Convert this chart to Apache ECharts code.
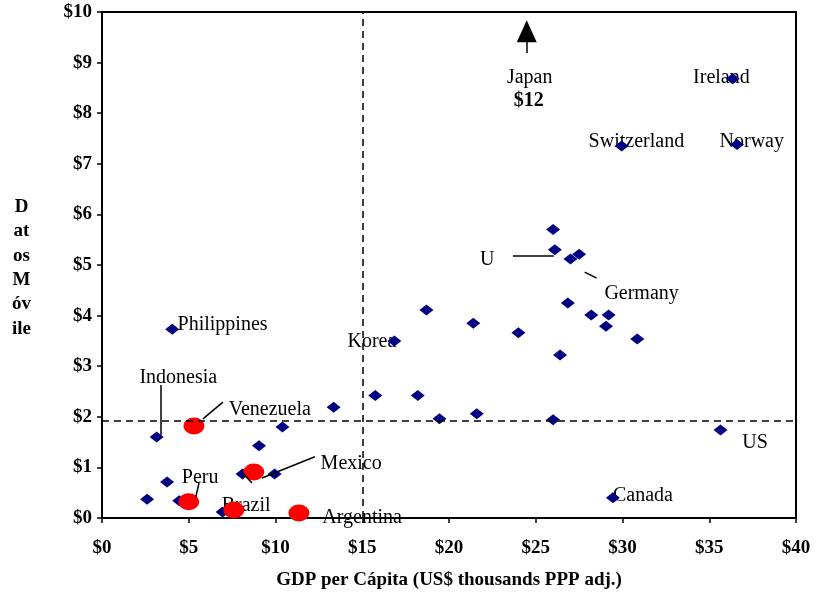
<!DOCTYPE html>
<html>
<head>
<meta charset="utf-8">
<script src="https://cdn.jsdelivr.net/npm/echarts@6/dist/echarts.min.js"></script>
<style>
  html, body { margin: 0; padding: 0; background: #fff; }
  #main { width: 817px; height: 593px; }
</style>
</head>
<body>
<div id="main"></div>
<script>
// GDP per capita (US$ thousands) and Datos Móvile ($)
const otherCountries = [
  [36.35, 8.68], [36.6, 7.38], [29.95, 7.35],
  [26.0, 5.7], [26.1, 5.3], [27.0, 5.12], [27.5, 5.21],
  [26.85, 4.25], [28.2, 4.01], [29.2, 4.01], [29.05, 3.79], [30.85, 3.54],
  [26.4, 3.22], [24.0, 3.66], [21.4, 3.85], [18.7, 4.11], [16.85, 3.5],
  [18.2, 2.42], [15.75, 2.42], [13.35, 2.19], [19.45, 1.96], [21.6, 2.06],
  [26.0, 1.94], [35.65, 1.74], [29.45, 0.4],
  [4.05, 3.73], [3.15, 1.6], [10.4, 1.8], [9.05, 1.43], [8.1, 0.87],
  [9.95, 0.87], [3.75, 0.71], [2.6, 0.37], [4.45, 0.34], [6.95, 0.12]
];
const latamCountries = [
  [5.3, 1.82], [8.75, 0.91], [5.0, 0.32], [7.6, 0.16], [11.35, 0.1]
];
const xTicks = [0, 5, 10, 15, 20, 25, 30, 35, 40];
const yTicks = [0, 1, 2, 3, 4, 5, 6, 7, 8, 9, 10];
const gdpRef = 15;
const mobileRef = 1.93;

// label anchors (data units): [x, y, text, align]
const labelAnchors = [
  [24.65, 8.75, 'Japan', 'center'],
  [35.7, 8.75, 'Ireland', 'center'],
  [37.45, 7.47, 'Norway', 'center'],
  [30.8, 7.47, 'Switzerland', 'center'],
  [22.2, 5.14, 'U', 'center'],
  [31.1, 4.48, 'Germany', 'center'],
  [6.95, 3.85, 'Philippines', 'center'],
  [14.15, 3.52, 'Korea', 'left'],
  [4.4, 2.81, 'Indonesia', 'center'],
  [7.3, 2.17, 'Venezuela', 'left'],
  [36.9, 1.52, 'US', 'left'],
  [12.6, 1.11, 'Mexico', 'left'],
  [4.6, 0.83, 'Peru', 'left'],
  [6.9, 0.28, 'Brazil', 'left'],
  [12.7, 0.04, 'Argentina', 'left'],
  [29.45, 0.47, 'Canada', 'left']
];
const leaderLines = [
  [[3.4, 2.63], [3.4, 1.64]],
  [[5.82, 1.96], [6.97, 2.29]],
  [[9.22, 0.79], [12.27, 1.21]],
  [[8.12, 0.89], [8.64, 0.69]],
  [[5.59, 0.69], [5.41, 0.42]],
  [[23.68, 5.18], [26.04, 5.18]],
  [[27.82, 4.86], [28.51, 4.74]]
];
const japanArrow = [[24.48, 9.19], [24.48, 9.62]];
const japanValue = [24.6, 8.28, '$12'];

const serif = '"Liberation Serif", "Times New Roman", serif';
const chart = echarts.init(document.getElementById('main'));

chart.setOption({
  animation: false,
  backgroundColor: '#fff',
  grid: {
    left: 102, right: 21, top: 12, bottom: 75,
    outerBoundsMode: 'none', containLabel: false,
    show: true, borderColor: '#000', borderWidth: 2, backgroundColor: 'transparent'
  },
  xAxis: {
    type: 'value', min: 0, max: 40, interval: 5,
    name: 'GDP per Cápita (US$ thousands PPP adj.)',
    nameLocation: 'middle', nameGap: 53,
    nameTextStyle: { fontFamily: serif, fontWeight: 'bold', fontSize: 19, color: '#000' },
    axisLine: { lineStyle: { color: '#000', width: 2 } },
    axisTick: { length: 5, lineStyle: { color: '#000', width: 1.5 } },
    axisLabel: {
      margin: 21, fontFamily: serif, fontWeight: 'bold', fontSize: 19, color: '#000',
      formatter: v => xTicks.includes(v) ? '$' + v : ''
    },
    splitLine: { show: false }
  },
  yAxis: {
    type: 'value', min: 0, max: 10, interval: 1,
    axisLine: { lineStyle: { color: '#000', width: 2 } },
    axisTick: { length: 5, lineStyle: { color: '#000', width: 1.5 } },
    axisLabel: {
      margin: 10, fontFamily: serif, fontWeight: 'bold', fontSize: 19, color: '#000',
      formatter: v => yTicks.includes(v) ? '$' + v : ''
    },
    splitLine: { show: false }
  },
  graphic: [{
    type: 'text', left: 12, top: 195, z: 10,
    style: {
      text: 'D\nat\nos\nM\nóv\nile', textAlign: 'center', lineHeight: 24.3,
      font: 'bold 19px ' + serif, fill: '#000', x: 10
    }
  }],
  series: [
    {
      type: 'scatter', name: 'labels', z: 1, symbolSize: 0,
      itemStyle: { opacity: 1 },
      data: labelAnchors.map(a => ({
        value: [a[0], a[1]],
        label: { show: true, position: 'inside', formatter: a[2], align: a[3] }
      })).concat([{
        value: [japanValue[0], japanValue[1]],
        label: { show: true, position: 'inside', formatter: japanValue[2], align: 'center', fontWeight: 'bold' }
      }]),
      label: { fontFamily: serif, fontSize: 20, color: '#000', opacity: 1, offset: [0, 2] },
      silent: true,
      markLine: {
        silent: true, symbol: 'none', label: { show: false },
        lineStyle: { color: '#000', width: 1.5, type: 'solid', opacity: 1 },
        data: leaderLines.map(l => [{ coord: l[0] }, { coord: l[1] }])
          .concat([[{ coord: japanArrow[0], symbol: 'none' },
                    { coord: japanArrow[1], symbol: 'triangle', symbolSize: [20, 22], symbolRotate: 0 }]])
      }
    },
    {
      type: 'scatter', name: 'refs', z: 2, data: [],
      markLine: {
        silent: true, symbol: 'none', label: { show: false },
        lineStyle: { color: '#000', width: 1.5, type: [7, 5], opacity: 1 },
        data: [{ xAxis: gdpRef }, { yAxis: mobileRef }]
      }
    },
    {
      type: 'scatter', name: 'others', z: 3,
      symbol: 'diamond', symbolSize: [14, 11],
      itemStyle: { color: '#000080', opacity: 1 },
      data: otherCountries
    },
    {
      type: 'scatter', name: 'latam', z: 4,
      symbol: 'circle', symbolSize: [21, 17],
      itemStyle: { color: '#ff0000', opacity: 1 },
      data: latamCountries
    }
  ]
});
</script>
</body>
</html>
